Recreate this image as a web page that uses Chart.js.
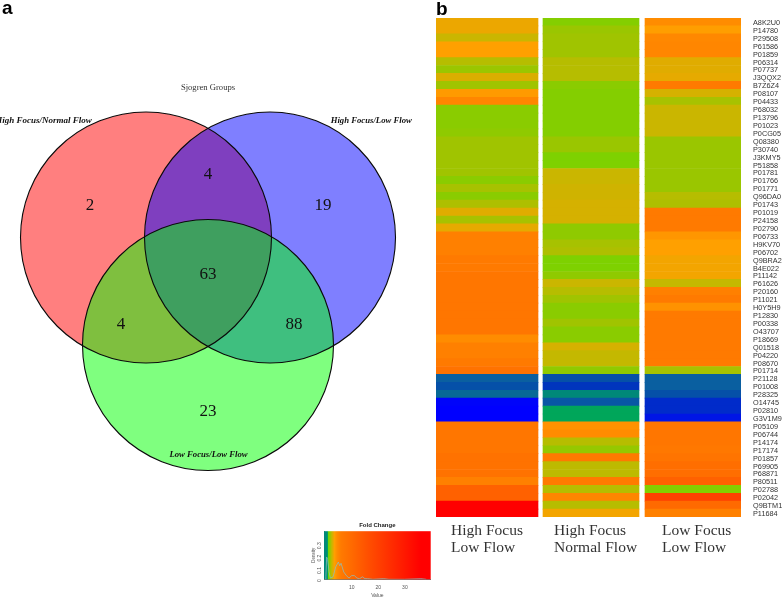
<!DOCTYPE html>
<html><head><meta charset="utf-8">
<style>
html,body{margin:0;padding:0;background:#fff;width:784px;height:599px;overflow:hidden}
canvas{position:absolute;display:block;filter:blur(0.35px)}
#key{filter:blur(0.5px)}
</style>
<script src="https://cdn.jsdelivr.net/npm/chart.js@4"></script>
</head><body>
<canvas id="venn" width="430" height="599" style="left:0;top:0"></canvas>
<canvas id="heat" width="354" height="599" style="left:430px;top:0"></canvas>
<canvas id="key" width="140" height="84" style="left:300px;top:515px"></canvas>
<script>
// ---------- Venn data ----------
const vennTitle = "Sjogren Groups";
const vennSetNames = ["High Focus/Normal Flow", "High Focus/Low Flow", "Low Focus/Low Flow"];
const vennSetColors = ["rgba(255,0,0,0.5)", "rgba(0,0,255,0.5)", "rgba(0,255,0,0.5)"];
const vennCircleX = [146, 270, 208];
const vennCircleY = [237.5, 237.5, 345];
const vennCircleR = [125.5, 125.5, 125.5];
const vennCounts = [2, 4, 19, 63, 4, 88, 23];
const vennCountX = [90, 208, 323, 208, 121, 294, 208];
const vennCountY = [206, 175, 206, 275, 325, 325, 412];

const proteins = ["A8K2U0","P14780","P29508","P61586","P01859","P06314","P07737","J3QQX2","B7Z6Z4","P08107","P04433","P68032","P13796","P01023","P0CG05","Q08380","P30740","J3KMY5","P51858","P01781","P01766","P01771","Q96DA0","P01743","P01019","P24158","P02790","P06733","H9KV70","P06702","Q9BRA2","B4E022","P11142","P61626","P20160","P11021","H0Y5H9","P12830","P00338","O43707","P18669","Q01518","P04220","P08670","P01714","P21128","P01008","P28325","O14745","P02810","G3V1M9","P05109","P06744","P14174","P17174","P01857","P69905","P68871","P80511","P02788","P02042","Q9BTM1","P11684"];
const highFocusLowFlow = [3.2,3.2,2.6,3.5,3.5,2.3,1.9,2.9,2.0,3.8,5,1.6,1.6,1.6,1.7,2.0,2.0,2.0,2.0,2.0,1.6,2.1,1.6,2.2,3.0,2.1,3.1,5.5,5.5,5.5,6,6,7,7,7,7,7,7,7,7,4.5,5.5,5.5,6,8,0.6,0.5,0.65,0.12,0.1,0.1,7,7,7,7,8,8,8,5.5,12,12,36,36];
const highFocusNormalFlow = [1.5,1.9,2.0,2.0,2.0,2.3,2.3,2.3,1.6,1.5,1.5,1.5,1.5,1.5,1.5,1.9,1.9,1.4,1.4,2.6,2.6,2.7,2.7,2.8,2.8,2.8,1.7,1.7,2.1,2.2,1.4,1.4,1.7,2.6,2.3,2.0,1.6,1.6,2.0,1.6,1.6,2.8,2.5,2.5,1.7,0.5,0.35,0.8,0.55,0.95,0.95,4.2,4.5,2.3,1.8,6,2.4,2.4,6,2.3,5,2.3,3.3];
const lowFocusLowFlow = [4.5,3.6,4.8,5,5,3.0,3.0,3.1,6,2.8,2.1,2.6,2.6,2.6,2.6,1.9,1.9,1.9,1.9,1.9,1.9,1.9,2.3,2.2,6,6,6,4,3.5,3.5,3.3,3.3,3.3,2.5,5.5,6,4.2,6,6,6,6,6,6,6,2.1,0.6,0.6,0.5,0.3,0.3,0.2,7,7,7,6.5,7.5,9,9,12,1.5,20,10,5.5];
const columnNames = [["High Focus","Low Flow"],["High Focus","Normal Flow"],["Low Focus","Low Flow"]];
const columnStart = [0, 107, 209];
const columnEnd = [102, 203, 305];
const columnLabelX = [15, 118, 226];

// ---------- Colour key ----------
const foldStops = [0.1,0.4,0.6,0.8,1,1.3,1.5,2,2.5,3,3.5,4.5,6,10,16,24,36];
const foldColors = ["#0000ff","#0040b0","#0a5fa0","#008878","#00b050","#78d400","#84ce00","#a0c400","#c4b800","#e0ac00","#ffa000","#ff8c00","#ff7a00","#ff6a00","#ff5000","#ff3000","#ff0000"];
const densityX = [0,0.3,0.6,1,1.5,2,3,4,5,5.5,6,7,8,9,10,11,12,13,14,15,16,18,22,24,30,36,38];
const densityY = [0,0.02,0.18,0.16,0.06,0.01,0.02,0.10,0.14,0.11,0.13,0.06,0.03,0.01,0.03,0.03,0.01,0.005,0.02,0.005,0.005,0,0.005,0,0,0.005,0];
const keyTicksX = [10,20,30];
const keyTicksY = [0,0.1,0.2,0.3];

const hexRgb = h => [1,3,5].map(i => parseInt(h.substr(i,2),16));
function foldColor(v){
  if (v <= foldStops[0]) return foldColors[0];
  for (let i = 1; i < foldStops.length; i++){
    if (v <= foldStops[i]){
      const t = (v-foldStops[i-1])/(foldStops[i]-foldStops[i-1]);
      const a = hexRgb(foldColors[i-1]), b = hexRgb(foldColors[i]);
      return "rgb("+a.map((c,k)=>Math.round(c+(b[k]-c)*t)).join(",")+")";
    }
  }
  return foldColors[foldColors.length-1];
}
Chart.defaults.animation = false;
Chart.defaults.responsive = false;
Chart.defaults.devicePixelRatio = 1;
Chart.defaults.plugins.legend.display = false;
Chart.defaults.plugins.tooltip.enabled = false;
const SERIF = '"Liberation Serif","Times New Roman",serif';
const SANS = '"Liberation Sans",Arial,sans-serif';

// ---------- Venn ----------
const vennPoints = vennCircleX.map((x,i)=>({x, y:vennCircleY[i], r:vennCircleR[i]}));
new Chart(document.getElementById("venn"), {
  type: "bubble",
  data: { datasets: [
    ...vennPoints.map((p,i)=>({label:vennSetNames[i], data:[p], backgroundColor:vennSetColors[i], borderWidth:0, order:10-i, clip:false})),
    {label:"outlines", data:vennPoints, backgroundColor:"rgba(0,0,0,0)", borderColor:"#0a0a0a", borderWidth:1.1, order:0, clip:false}
  ]},
  options: {
    layout:{padding:0, autoPadding:false},
    scales:{ x:{type:"linear",min:0,max:430,display:false}, y:{type:"linear",min:0,max:599,reverse:true,display:false} }
  },
  plugins:[{ id:"vennText", afterDraw(c){
    const g=c.ctx, X=c.scales.x, Y=c.scales.y;
    g.save(); g.textBaseline="middle"; g.textAlign="center"; g.fillStyle="#111";
    g.font="17px "+SERIF;
    vennCounts.forEach((n,i)=>g.fillText(String(n),X.getPixelForValue(vennCountX[i]),Y.getPixelForValue(vennCountY[i])));
    g.fillStyle="#333"; g.font="8.6px "+SERIF;
    g.fillText(vennTitle,X.getPixelForValue(208),Y.getPixelForValue(87.3));
    g.fillStyle="#111"; g.font="italic bold 9px "+SERIF;
    g.textAlign="right"; g.fillText(vennSetNames[0],X.getPixelForValue(91.7),Y.getPixelForValue(120.7));
    g.font="italic bold 8.7px "+SERIF;
    g.textAlign="left"; g.fillText(vennSetNames[1],X.getPixelForValue(330.7),Y.getPixelForValue(120.7));
    g.textAlign="center"; g.fillText(vennSetNames[2],X.getPixelForValue(208.5),Y.getPixelForValue(455));
    g.fillStyle="#000"; g.font="bold 19px "+SANS; g.textAlign="left"; g.textBaseline="alphabetic";
    g.fillText("a",2,14);
    g.restore();
  }}]
});

// ---------- Heatmap ----------
const heatColumns = [highFocusLowFlow, highFocusNormalFlow, lowFocusLowFlow];
new Chart(document.getElementById("heat"), {
  type:"bar",
  data:{ labels:proteins, datasets: heatColumns.map((vals,c)=>({
    label:columnNames[c].join(" "),
    data:vals.map(()=>[columnStart[c],columnEnd[c]]),
    backgroundColor:vals.map(foldColor),
    borderWidth:0, barPercentage:1, categoryPercentage:1, grouped:false
  }))},
  options:{
    indexAxis:"y",
    layout:{padding:{left:6,top:18,bottom:82,right:0}},
    scales:{
      x:{type:"linear",min:0,max:305,display:false},
      y:{type:"category",position:"right",offset:true,
        grid:{display:false,drawTicks:false},border:{display:false},
        ticks:{autoSkip:false,padding:12,labelOffset:1,color:"#333",font:{family:SANS,size:7.3},maxRotation:0,minRotation:0},
        afterFit(s){s.width=43;}
      }
    }
  },
  plugins:[{ id:"heatText", afterDraw(c){
    const g=c.ctx, X=c.scales.x, Y=c.scales.y;
    g.save(); g.fillStyle="#333"; g.font="15.5px "+SERIF; g.textAlign="left"; g.textBaseline="middle";
    columnNames.forEach((ls,i)=>ls.forEach((t,j)=>g.fillText(t,X.getPixelForValue(columnLabelX[i]),Y.bottom+14+j*17.3)));
    g.fillStyle="#000"; g.font="bold 19px "+SANS; g.textBaseline="alphabetic";
    g.fillText("b",6,15);
    g.restore();
  }}]
});

// ---------- Fold change key ----------
new Chart(document.getElementById("key"), {
  type:"scatter",
  data:{datasets:[{label:"Density",data:densityX.map((x,i)=>({x,y:densityY[i]})),showLine:true,borderColor:"rgba(140,190,190,0.75)",borderWidth:1,pointRadius:0,tension:0}]},
  options:{
    layout:{padding:{left:11,right:9.3}},
    plugins:{title:{display:true,text:"Fold Change",fullSize:false,color:"#222",font:{family:SANS,size:6,weight:"bold"},padding:{top:7,bottom:2}}},
    scales:{
      x:{type:"linear",min:-0.4,max:39.7,grid:{display:false,tickLength:2},border:{color:"#777"},
        title:{display:true,text:"Value",color:"#555",font:{family:SANS,size:5},padding:{top:1,bottom:0}},
        ticks:{color:"#555",font:{family:SANS,size:5},padding:3,maxRotation:0},
        afterBuildTicks(s){s.ticks=keyTicksX.map(value=>({value}));},
        afterFit(s){s.height=19.7;}},
      y:{type:"linear",min:0,max:0.39,grid:{display:false,tickLength:2},border:{color:"#777"},
        title:{display:true,text:"Density",color:"#555",font:{family:SANS,size:4.5},padding:{top:0,bottom:0}},
        ticks:{color:"#555",font:{family:SANS,size:5},padding:2,minRotation:90,maxRotation:90},
        afterBuildTicks(s){s.ticks=keyTicksY.map(value=>({value}));},
        afterFit(s){s.width=13;}}
    }
  },
  plugins:[{ id:"keyGradient", beforeDatasetsDraw(c){
    const g=c.ctx, a=c.chartArea, X=c.scales.x;
    const grad=g.createLinearGradient(a.left,0,a.right,0);
    foldStops.forEach((v,i)=>{
      if (v<0.8) return;
      const t=Math.max(0,Math.min(1,(X.getPixelForValue(v)-a.left)/(a.right-a.left)));
      grad.addColorStop(t,foldColors[i]);
    });
    g.save(); g.fillStyle=grad; g.fillRect(a.left,a.top,a.right-a.left,a.bottom-a.top); g.restore();
  }}]
});
</script>
</body></html>
